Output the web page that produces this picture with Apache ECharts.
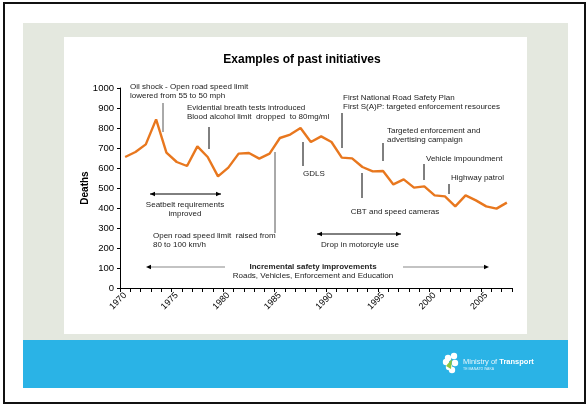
<!DOCTYPE html>
<html>
<head>
<meta charset="utf-8">
<script src="https://cdn.jsdelivr.net/npm/echarts@6/dist/echarts.min.js"></script>
<style>html,body{margin:0;padding:0;background:#fff}#c{width:587px;height:405px}</style>
</head>
<body>
<div id="c"></div>
<script>
const years = ['1970','1971','1972','1973','1974','1975','1976','1977','1978','1979','1980','1981','1982','1983','1984','1985','1986','1987','1988','1989','1990','1991','1992','1993','1994','1995','1996','1997','1998','1999','2000','2001','2002','2003','2004','2005','2006','2007'];
const deaths = [655,680,718,843,677,630,610,708,655,558,602,672,675,647,672,750,767,800,730,758,730,652,648,605,583,585,518,543,502,508,463,458,408,463,438,408,397,427];
const yTicks = {min:0, max:1000, interval:100};
const titleText = 'Examples of past initiatives';

const FF = '"Liberation Sans", Arial, sans-serif';
const g = [];
function rect(x,y,w,h,fill,z,stroke){g.push({type:'rect',z:z||-5,silent:true,shape:{x,y,width:w,height:h},style:{fill:fill||'none',stroke:stroke||null,lineWidth:stroke?2:0}});}
function txt(x,y,s,o){o=o||{};g.push({type:'text',z:10,silent:true,style:{text:s,x,y,font:(o.w||'normal')+' '+(o.s||8.5)+'px '+FF,fill:o.c||'#222',align:o.a||'left',textAlign:o.a||'left',verticalAlign:'middle',textVerticalAlign:'middle'}});}
function vline(x,y1,y2,c){g.push({type:'line',z:10,silent:true,shape:{x1:x,y1,x2:x,y2},style:{stroke:c||'#000',lineWidth:1}});}
function head(x,y,dir,c){const d=dir*5;g.push({type:'polygon',z:11,silent:true,shape:{points:[[x,y],[x-d,y-2.3],[x-d,y+2.3]]},style:{fill:c||'#000'}});}
function harrow(x1,x2,y,both,c){g.push({type:'line',z:10,silent:true,shape:{x1,y1:y,x2,y2:y},style:{stroke:c||'#000',lineWidth:1}});head(x2,y,1);if(both)head(x1,y,-1);}

// page frame and panels
rect(4,3,581,400,'#fff',-20,'#111');
rect(23,23,545,318,'#e4e8df',-15);
rect(64,37,463,297,'#fff',-10);
rect(23,340,545,48,'#2ab3e6',-10);
// logo
[[448,358],[454,356],[455,363],[449,367],[446,362],[452,370]].forEach(p=>g.push({type:'circle',z:5,silent:true,shape:{cx:p[0],cy:p[1],r:3.2},style:{fill:'#fff'}}));
g.push({type:'polygon',z:6,silent:true,shape:{points:[[446,366],[452,359],[451,369]]},style:{fill:'#8cc63f'}});
g.push({type:'text',z:6,silent:true,style:{text:'{a|Ministry of }{b|Transport}',x:463,y:362,verticalAlign:'middle',textVerticalAlign:'middle',rich:{a:{fill:'#e8f6fc',font:'normal 7.5px '+FF},b:{fill:'#fff',font:'bold 7.5px '+FF}}}});
txt(463,369,'TE MANATŪ WAKA',{s:3.5,c:'#d8f0fa'});

// annotations
txt(130,87,'Oil shock - Open road speed limit',{s:8});
txt(130,95.5,'lowered from 55 to 50 mph',{s:8});
vline(163,103,132,'#555');
txt(187,108,'Evidential breath tests introduced',{s:8});
txt(187,117,'Blood alcohol limit  dropped  to 80mg/ml',{s:8});
vline(209,127,149);
harrow(150,221,194,true);
txt(185,205,'Seatbelt requirements',{s:8,a:'center'});
txt(185,213.5,'improved',{s:8,a:'center'});
vline(275,152,233,'#555');
txt(153,236,'Open road speed limit  raised from',{s:8});
txt(153,245,'80 to 100 km/h',{s:8});
vline(303,142,166);
txt(303,174,'GDLS',{s:8});
txt(343,98,'First National Road Safety Plan',{s:8});
txt(343,107,'First S(A)P: targeted enforcement resources',{s:8});
vline(342,113,148);
txt(387,131,'Targeted enforcement and',{s:8});
txt(387,140,'advertising campaign',{s:8});
vline(383,143,161);
vline(362,173,198);
txt(395,212,'CBT and speed cameras',{s:8,a:'center'});
txt(426,159,'Vehicle impoundment',{s:8});
vline(424,164,180);
txt(451,178,'Highway patrol',{s:8});
vline(449,184,194);
harrow(317,401,234,true);
txt(360,245,'Drop in motorcyle use',{s:8,a:'center'});
g.push({type:'line',z:10,silent:true,shape:{x1:225,y1:267,x2:150,y2:267},style:{stroke:'#888',lineWidth:1.2}});head(146,267,-1);
g.push({type:'line',z:10,silent:true,shape:{x1:403,y1:267,x2:485,y2:267},style:{stroke:'#888',lineWidth:1.2}});head(489,267,1);
txt(313,266.5,'Incremental safety improvements',{s:8,w:'bold',a:'center'});
txt(313,275.5,'Roads, Vehicles, Enforcement and Education',{s:8,a:'center'});

const chart = echarts.init(document.getElementById('c'), null, {renderer:'canvas'});
chart.setOption({
  animation:false,
  backgroundColor:'#fff',
  title:{text:titleText,left:297,top:49,textAlign:'center',textStyle:{fontFamily:FF,fontSize:12,fontWeight:'bold',color:'#000'}},
  grid:{left:120,top:88,width:392,height:200},
  xAxis:{type:'category',data:years,boundaryGap:true,
    axisLine:{lineStyle:{color:'#000',width:1}},
    axisTick:{show:true,interval:0,length:4,lineStyle:{color:'#000'}},
    axisLabel:{interval:4,rotate:45,fontFamily:FF,fontSize:9,color:'#000',margin:6}},
  yAxis:{type:'value',min:yTicks.min,max:yTicks.max,interval:yTicks.interval,
    name:'Deaths',nameLocation:'middle',nameGap:30,nameRotate:90,nameMoveOverlap:false,
    nameTextStyle:{fontFamily:FF,fontSize:10,fontWeight:'bold',color:'#000'},
    axisLine:{show:true,lineStyle:{color:'#000',width:1}},
    axisTick:{show:true,length:3,lineStyle:{color:'#000'}},
    splitLine:{show:false},
    axisLabel:{fontFamily:FF,fontSize:9.5,color:'#000',margin:6,formatter:v=>String(v)}},
  series:[{type:'line',data:deaths,symbol:'none',smooth:false,lineStyle:{color:'#E8771E',width:2.4},z:3}],
  graphic:g
});
</script>
</body>
</html>
